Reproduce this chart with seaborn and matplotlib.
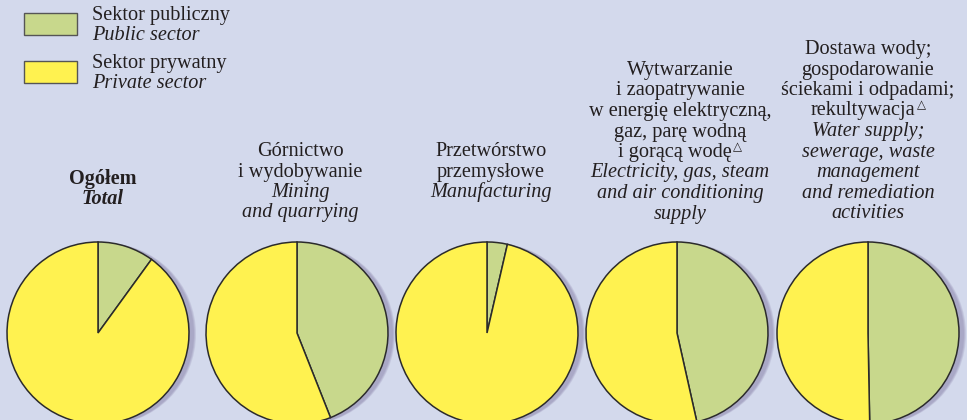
import matplotlib
matplotlib.use("Agg")
import matplotlib.pyplot as plt
from matplotlib import font_manager as fm
from matplotlib.patches import Circle, Rectangle
import seaborn as sns

# ---------------- data ----------------
sectors_pl = [
    ["Ogółem"],
    ["Górnictwo", "i wydobywanie"],
    ["Przetwórstwo", "przemysłowe"],
    ["Wytwarzanie", "i zaopatrywanie", "w energię elektryczną,", "gaz, parę wodną",
     "i gorącą wodę"],
    ["Dostawa wody;", "gospodarowanie", "ściekami i odpadami;", "rekultywacja"],
]
# index of the Polish line that carries the superscript triangle (-1 = none)
triangle_line = [-1, -1, -1, 4, 3]
sectors_en = [
    ["Total"],
    ["Mining", "and quarrying"],
    ["Manufacturing"],
    ["Electricity, gas, steam", "and air conditioning", "supply"],
    ["Water supply;", "sewerage, waste", "management", "and remediation", "activities"],
]
public_share = [10.0, 44.0, 3.6, 46.5, 49.7]
private_share = [90.0, 56.0, 96.4, 53.5, 50.3]
legend_pl = ["Sektor publiczny", "Sektor prywatny"]
legend_en = ["Public sector", "Private sector"]

# ---------------- style ----------------
sns.set_style("white")
names = {f.name for f in fm.fontManager.ttflist}
SERIF = "Liberation Serif" if "Liberation Serif" in names else "DejaVu Serif"
plt.rcParams["font.family"] = [SERIF, "DejaVu Serif"]

BG = "#d3d9ec"
GREEN = "#c8d88c"
YELLOW = "#fff250"
EDGE = "#2b2b2b"
TXT = "#231f20"
SHADOW = "#a7a5c4"
FS = 14.6

W, H = 967, 420
fig = plt.figure(figsize=(W / 100, H / 100), dpi=100, facecolor=BG)
ax = fig.add_axes([0, 0, 1, 1])
ax.set_facecolor(BG)
ax.set_xlim(0, W)
ax.set_ylim(0, H)
renderer = fig.canvas.get_renderer()

centers_x = [98, 297, 487, 677, 868]
center_y = H - 333
radius = 91
title_x = [103, 300, 491, 680, 868]
first_baseline = [184, 156, 156, 75, 54]
spacing = 20.5
TRI_W = 10

for i in range(len(public_share)):
    cx = centers_x[i]
    # soft shadow
    for dx, a in [(7, 0.35), (6, 0.5), (5, 0.8)]:
        ax.add_patch(Circle((cx + dx, center_y - 1), radius, color=SHADOW,
                            alpha=a, lw=0, zorder=1))
    ax.pie([public_share[i], private_share[i]], colors=[GREEN, YELLOW],
           startangle=90, counterclock=False, center=(cx, center_y),
           radius=radius, frame=True,
           wedgeprops=dict(edgecolor=EDGE, linewidth=1.1, zorder=3))

    lines = [(t, "normal") for t in sectors_pl[i]] + [(t, "italic") for t in sectors_en[i]]
    for j, (t, st) in enumerate(lines):
        y = H - (first_baseline[i] + j * spacing)
        weight = "bold" if i == 0 else "normal"
        x = title_x[i]
        has_tri = (j == triangle_line[i])
        if has_tri:
            x -= TRI_W / 2
        txt = ax.text(x, y, t, ha="center", va="baseline", fontsize=FS,
                      style=st, weight=weight, color=TXT, zorder=5)
        if has_tri:
            bb = txt.get_window_extent(renderer)
            ax.text(bb.x1 + 1.5, y + 7, "△", ha="left", va="baseline",
                    fontsize=8.5, color=TXT, family="DejaVu Sans", zorder=5)

# legend
for k, col in enumerate([GREEN, YELLOW]):
    top = 13 + k * 48
    ax.add_patch(Rectangle((24, H - top - 22), 53, 22, facecolor=col,
                           edgecolor="#555555", lw=1.0, zorder=4))
    ax.text(92, H - (20 + k * 48), legend_pl[k], ha="left", va="baseline",
            fontsize=FS, color=TXT)
    ax.text(92, H - (40 + k * 48), legend_en[k], ha="left", va="baseline",
            fontsize=FS, style="italic", color=TXT)

ax.set_xlim(0, W)
ax.set_ylim(0, H)
ax.set_aspect("auto")
ax.axis("off")
fig.savefig("out.png", dpi=100, facecolor=BG)
